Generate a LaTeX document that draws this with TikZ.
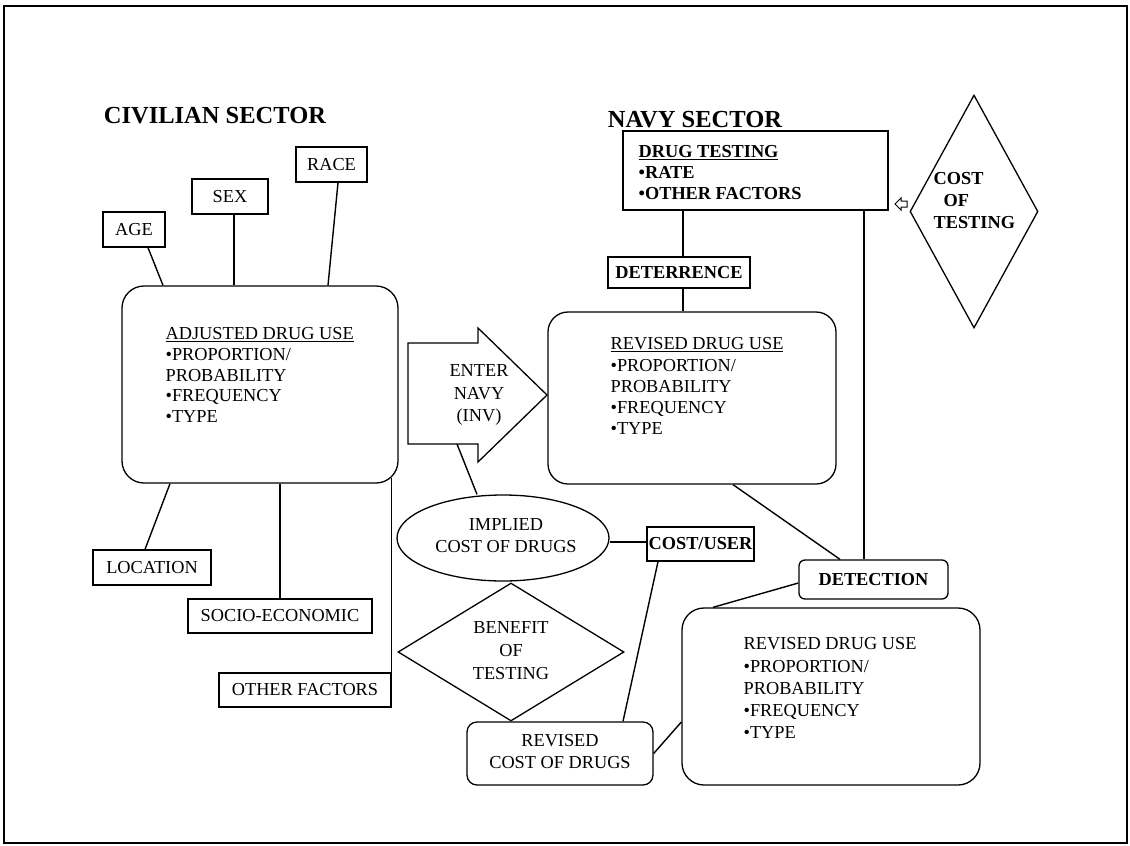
\documentclass[tikz,border=0pt]{standalone}
\usepackage{fontspec}
\setmainfont{Liberation Serif}
\usetikzlibrary{shapes.geometric}
\begin{document}
\begin{tikzpicture}[x=1pt,y=-1pt,line width=1.3pt,
  every node/.style={font=\fontsize{18.3}{21}\selectfont, inner sep=0pt},
  box/.style={draw, rectangle},
  bigbox/.style={draw, rectangle, rounded corners=22pt},
  smallround/.style={draw, rectangle, rounded corners=7pt},
  title/.style={font=\fontsize{24.5}{28}\bfseries\selectfont},
  bold/.style={font=\fontsize{18.3}{21}\bfseries\selectfont},
  blocktext/.style={anchor=north west, align=left},
  conn/.style={line width=1.4pt}]
\useasboundingbox (0,0) rectangle (1130,846);
\draw[line width=1.5pt] (4,6) rectangle (1127,843);

% titles
\node[title] (civ) at (215,116) {CIVILIAN SECTOR};
\node[title] (navy) at (695,120) {NAVY SECTOR};

% civilian factors
\node[box, minimum width=62, minimum height=35] (age) at (134,229.5) {AGE};
\node[box, minimum width=76, minimum height=35] (sex) at (230,196.5) {SEX};
\node[box, minimum width=71, minimum height=35] (race) at (331.5,164.5) {RACE};
\node[box, minimum width=118, minimum height=35] (loc) at (152,567.5) {LOCATION};
\node[box, minimum width=184, minimum height=34] (socio) at (280,616) {SOCIO-ECONOMIC};
\node[box, minimum width=172, minimum height=34] (other) at (305,690) {OTHER FACTORS};

% adjusted drug use
\node[bigbox, minimum width=276, minimum height=197] (adj) at (260,384.5) {};
\node[blocktext, font=\fontsize{18.3}{20.7}\selectfont] (adjtext) at (165,327)
  {\underline{ADJUSTED DRUG USE}\\•PROPORTION/\\PROBABILITY\\•FREQUENCY\\•TYPE};

% enter navy arrow
\draw (408,343) -- (478,343) -- (478,328) -- (547,395) -- (478,462) -- (478,444) -- (408,444) -- cycle;
\coordinate (arrbot) at (457,444);
\node[align=center, font=\fontsize{18.3}{22.5}\selectfont] (enter) at (479,395) {ENTER\\NAVY\\(INV)};

% navy sector
\node[box, minimum width=265, minimum height=79] (dt) at (755.5,170.5) {};
\node[blocktext, font=\fontsize{18.3}{21}\bfseries\selectfont] (dttext) at (638,145)
  {\underline{DRUG TESTING}\\•RATE\\•OTHER FACTORS};
\node[box, bold, minimum width=142, minimum height=31] (deter) at (679,272.5) {DETERRENCE};
\node[draw, diamond, minimum width=128, minimum height=233] (cot) at (974,211.5) {};
\node[align=left, font=\fontsize{18.3}{22}\bfseries\selectfont, anchor=west] (cottext) at (933,201) {COST\\\hspace*{10pt}OF\\TESTING};
\draw[line width=1pt] (895,204) -- (901,198) -- (901,201) -- (907,201) -- (907,207) -- (901,207) -- (901,210) -- cycle;

\node[bigbox, rounded corners=20pt, minimum width=288, minimum height=172] (mid) at (692,398) {};
\node[blocktext, font=\fontsize{18.3}{21.3}\selectfont] (midtext) at (610,337)
  {\underline{REVISED DRUG USE}\\•PROPORTION/\\PROBABILITY\\•FREQUENCY\\•TYPE};

% costs
\node[draw, ellipse, minimum width=212, minimum height=86] (ell) at (503,538) {};
\node[align=center, font=\fontsize{18.3}{22}\selectfont] (elltext) at (506,536) {IMPLIED\\COST OF DRUGS};
\node[draw, diamond, minimum width=226, minimum height=138] (ben) at (511,652) {};
\node[align=center, font=\fontsize{18.3}{23}\selectfont] (bentext) at (511,651) {BENEFIT\\OF\\TESTING};
\node[box, bold, minimum width=107, minimum height=34] (cu) at (700.5,544) {COST/USER};
\node[smallround, bold, rounded corners=6pt, minimum width=149, minimum height=39] (det) at (873.5,579.5) {DETECTION};
\node[smallround, rounded corners=10pt, minimum width=186, minimum height=63] (rc) at (560,753.5) {};
\node[align=center, font=\fontsize{18.3}{22}\selectfont] (rctext) at (560,752) {REVISED\\COST OF DRUGS};

\node[bigbox, minimum width=298, minimum height=177] (br) at (831,696.5) {};
\node[blocktext, font=\fontsize{18.3}{22.3}\selectfont] (brtext) at (743,637)
  {REVISED DRUG USE\\•PROPORTION/\\PROBABILITY\\•FREQUENCY\\•TYPE};

% connectors
\draw[conn] ([xshift=14pt]age.south) -- ([xshift=-97pt]adj.north);
\draw[conn] ([xshift=4pt]sex.south) -- ([xshift=-26pt]adj.north);
\draw[conn] ([xshift=6.5pt]race.south) -- ([xshift=68pt]adj.north);
\draw[conn] ([xshift=-7pt]loc.north) -- ([xshift=-90pt]adj.south);
\draw[conn] (socio.north) -- ([xshift=20pt]adj.south);
\draw[conn] (other.north east) -- ([xshift=-7pt,yshift=6pt]adj.south east);
\draw[conn] ([xshift=-72.5pt]dt.south) -- ([xshift=4pt]deter.north);
\draw[conn] ([xshift=4pt]deter.south) -- ([xshift=-9pt]mid.north);
\draw[conn] ([xshift=108.5pt]dt.south) -- ([xshift=-9.5pt]det.north);
\draw[conn] ([xshift=41pt]mid.south) -- ([xshift=-33.5pt]det.north);
\draw[conn] ([yshift=-3.5pt]det.west) -- ([xshift=-118pt]br.north);
\draw[conn] ([yshift=-4pt]ell.east) -- ([yshift=2pt]cu.west);
\draw[conn] ([xshift=-42.5pt]cu.south) -- ([xshift=63pt]rc.north);
\draw[conn] (rc.east) -- ([yshift=-25.5pt]br.west);
\draw[conn] (arrbot) -- ([xshift=-26pt]ell.north);
\end{tikzpicture}
\end{document}
